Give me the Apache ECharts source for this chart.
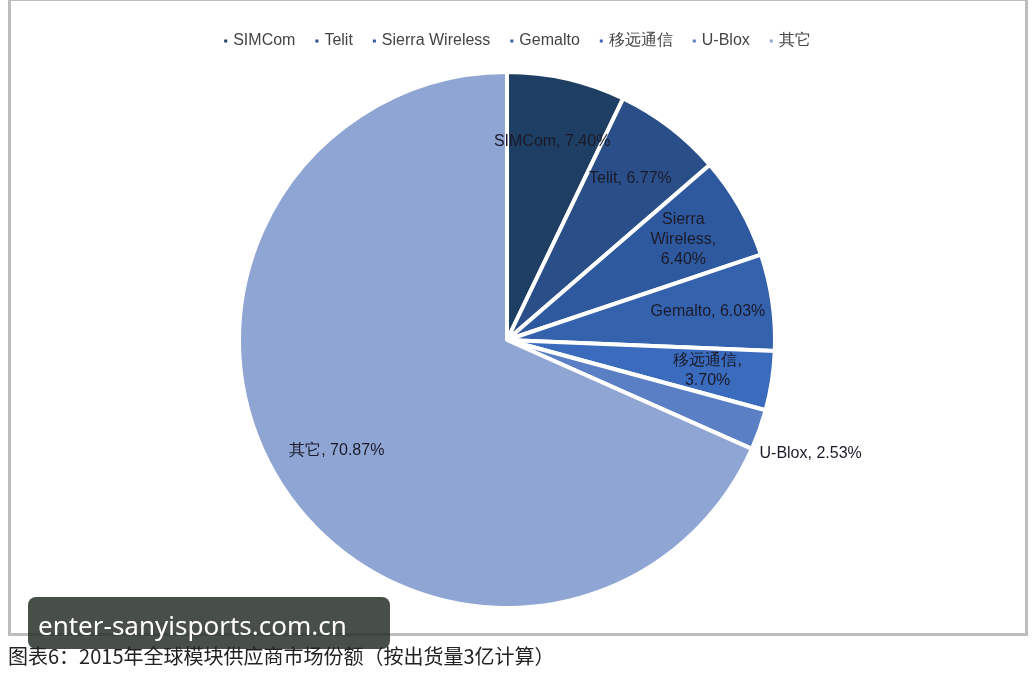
<!DOCTYPE html>
<html><head><meta charset="utf-8">
<script src="https://cdn.jsdelivr.net/npm/echarts@6/dist/echarts.min.js"></script>
<style>
body{margin:0;background:#fff;font-family:"Liberation Sans","Noto Sans CJK SC",sans-serif;}
#frame{position:absolute;left:8px;top:-2px;width:1014px;height:632px;border:3px solid #bdbdbd;}
#chart{position:absolute;left:0;top:0;width:1033px;height:635px;}
#wm{position:absolute;left:28px;top:597px;width:362px;height:52px;background:rgba(40,48,40,0.85);border-radius:8px;color:#fff;font:26px "Noto Sans","DejaVu Sans",sans-serif;line-height:56px;padding-left:10px;box-sizing:border-box;}
#cap{position:absolute;left:8px;top:641px;font:20px "Noto Sans CJK SC",sans-serif;color:#222;}
</style></head><body>
<div id="frame"></div>
<div id="chart"></div>
<div id="wm">enter-sanyisports.com.cn</div>
<div id="cap">图表6：2015年全球模块供应商市场份额（按出货量3亿计算）</div>
<script>
var vendors = ['SIMCom', 'Telit', 'Sierra Wireless', 'Gemalto', '移远通信', 'U-Blox', '其它'];
var shares = [7.40, 6.77, 6.40, 6.03, 3.70, 2.53, 70.87];
var colors = ['#1e3e64', '#2a4f88', '#2f599f', '#3462ad', '#3a6bbd', '#5a7fc4', '#8fa5d4'];
var labelNames = ['SIMCom, ', 'Telit, ', 'Sierra\nWireless,\n', 'Gemalto, ', '移远通信,\n', 'U-Blox, ', '其它, '];

var myChart = echarts.init(document.getElementById('chart'));
var pieData = vendors.map(function (v, i) {
    return {name: v, value: shares[i], itemStyle: {color: colors[i]}};
});
var labelData = vendors.map(function (v, i) {
    return {name: v, value: shares[i], label: {show: i !== 5}};
});
myChart.setOption({
    legend: {
        data: vendors,
        top: 28,
        icon: 'rect',
        itemWidth: 5,
        itemHeight: 5,
        itemGap: 18,
        textStyle: {color: '#444', fontSize: 16}
    },
    series: [
        {
            type: 'pie',
            center: [507, 340],
            radius: [0, 268],
            startAngle: 90,
            itemStyle: {borderColor: '#fff', borderWidth: 4},
            label: {
                show: true,
                position: 'outside',
                color: '#1a1a2a',
                fontSize: 16,
                offset: [-5, 24],
                formatter: function (p) {
                    return p.dataIndex === 5 ? labelNames[5] + p.value.toFixed(2) + '%' : '';
                }
            },
            labelLine: {show: false, length: 0, length2: 0},
            emphasis: {disabled: true},
            data: pieData
        },
        {
            type: 'pie',
            silent: true,
            center: [507, 340],
            radius: [0, 400],
            startAngle: 90,
            itemStyle: {color: 'rgba(0,0,0,0)'},
            label: {
                position: 'inside',
                color: '#1a1a2a',
                fontSize: 16,
                lineHeight: 20,
                formatter: function (p) {
                    return labelNames[p.dataIndex] + p.value.toFixed(2) + '%';
                }
            },
            data: labelData
        }
    ]
});
</script></body></html>
